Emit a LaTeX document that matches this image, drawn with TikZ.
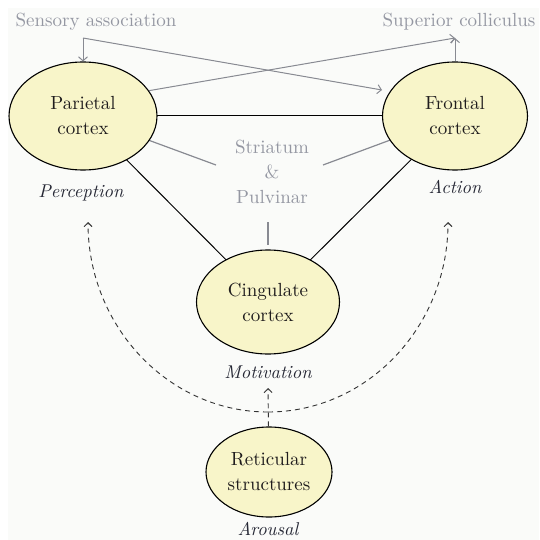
\documentclass[tikz,border=0pt]{standalone}
\usepackage{fontspec}
\setmainfont{lmroman10-regular.otf}[ItalicFont=lmroman10-italic.otf]
\usetikzlibrary{shapes.geometric,arrows.meta}
\definecolor{txt}{HTML}{1F1C1D}
\definecolor{labc}{HTML}{262835}
\definecolor{greyc}{HTML}{9497A2}
\definecolor{greyl}{HTML}{888A92}
\definecolor{ellfill}{HTML}{F8F5C9}
\definecolor{bgc}{HTML}{FAFBF9}
\begin{document}
\begin{tikzpicture}[x=1pt,y=-1pt,
  cortex/.style={ellipse,draw=black,line width=1.1pt,fill=ellfill,inner sep=0pt,align=center,font=\fontsize{19}{25}\selectfont,text=txt},
  lab/.style={font=\fontsize{18.5}{22}\selectfont\itshape,text=labc},
  greytext/.style={font=\fontsize{19}{25}\selectfont,text=greyc,align=center},
  link/.style={line width=1pt,draw=black},
  greyline/.style={line width=1.2pt,draw=greyl},
  greyarrow/.style={line width=1pt,draw=greyl,-{Straight Barb[length=4pt,width=9pt]}},
  dasharrow/.style={line width=0.9pt,draw=black!80,dash pattern=on 5pt off 4pt,-{Straight Barb[length=4pt,width=8pt]}}]
\useasboundingbox (0,0) rectangle (539,540);
\fill[white] (0,0) rectangle (539,540);
\fill[bgc] (8,8) rectangle (539,540);

% coordinates
\coordinate (sc) at (83,38);
\coordinate (senstip) at (382,90);
\coordinate (uc) at (455,38);
\coordinate (strL) at (216,165);
\coordinate (strR) at (323,165);
\coordinate (strB) at (268,222);
\coordinate (strB2) at (268,245);
\coordinate (arcB) at (268,412);
\coordinate (arcL) at (88,222);
\coordinate (arcR) at (448,222);
\coordinate (mottip) at (268,388);

% connectors (drawn first, nodes on top)
\draw[link] (83,116) -- (455,116);
\draw[link] (83,116) -- (268,302);
\draw[link] (455,116) -- (268,302);
\draw[greyline] (83,116) -- (strL);
\draw[greyline] (455,116) -- (strR);

% nodes
\node[cortex,minimum width=148pt,minimum height=108pt] (par) at (83,116) {Parietal\\cortex};
\node[cortex,minimum width=145pt,minimum height=108pt] (fro) at (455,116) {Frontal\\cortex};
\node[cortex,minimum width=143pt,minimum height=104pt] (cing) at (268,302) {Cingulate\\cortex};
\node[cortex,minimum width=126pt,minimum height=90pt] (ret) at (269,472) {Reticular\\structures};

\node[greytext] (sens) at (96,22) {Sensory association};
\node[greytext] (sup) at (459,22) {Superior colliculus};
\node[greytext] (stri) at (272,172) {Striatum\\\&\\Pulvinar};

\node[lab] (perc) at (81,193) {Perception};
\node[lab] (act) at (455,187) {Action};
\node[lab] (mot) at (268,372) {Motivation};
\node[lab] (aro) at (268,529) {Arousal};

% grey connectors
\draw[greyline] (strB) -- (strB2);
\draw[greyarrow] (sc) -- (par);
\draw[greyarrow] (sc) -- (senstip);
\draw[greyarrow] (par.21) -- (uc);
\draw[greyarrow] (fro) -- (uc);

% dashed arousal connectors
\draw[dasharrow] (ret) -- (mottip);
\draw[dasharrow] (arcB) .. controls (169,412) and (88,327) .. (arcL);
\draw[dasharrow] (arcB) .. controls (367,412) and (448,327) .. (arcR);
\end{tikzpicture}
\end{document}
